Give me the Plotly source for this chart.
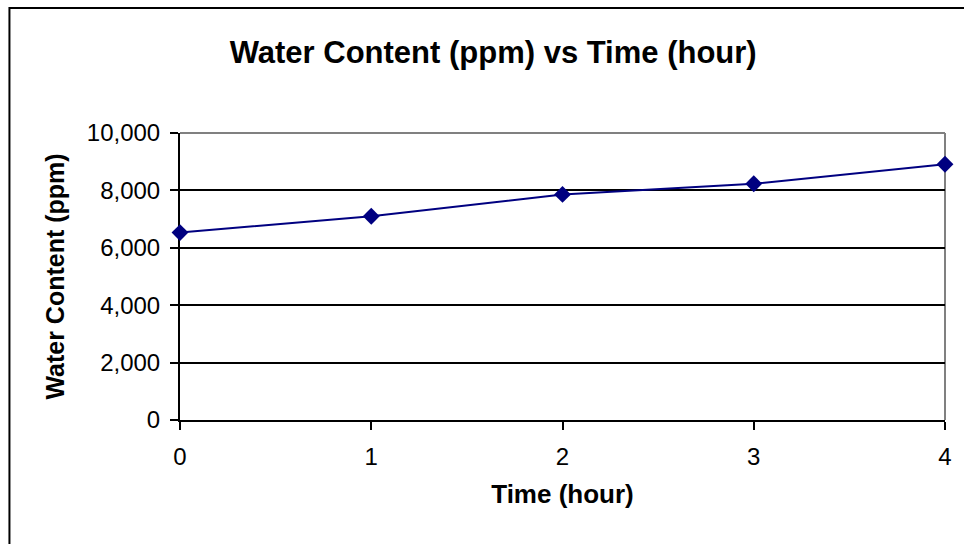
import plotly.graph_objects as go

time_hours = [0, 1, 2, 3, 4]
water_ppm = [6530, 7100, 7860, 8230, 8910]
y_tick_vals = [0, 2000, 4000, 6000, 8000, 10000]
y_tick_text = ["0", "2,000", "4,000", "6,000", "8,000", "10,000"]
x_tick_vals = [0, 1, 2, 3, 4]

FONT = "Arial, Liberation Sans, sans-serif"
NAVY = "#000080"

fig = go.Figure()
fig.add_trace(go.Scatter(
    x=time_hours, y=water_ppm, mode="lines+markers",
    line=dict(color=NAVY, width=2),
    marker=dict(symbol="diamond", size=13, color=NAVY),
    showlegend=False, cliponaxis=False,
))

fig.update_layout(
    width=964, height=544,
    margin=dict(l=180, r=17, t=133, b=124),
    paper_bgcolor="white", plot_bgcolor="white",
    font=dict(family=FONT, color="black"),
    title=dict(text="<b>Water Content (ppm) vs Time (hour)</b>",
               font=dict(size=31, family=FONT, color="black"),
               xref="paper", x=(494 - 180) / 767, xanchor="center",
               yref="container", y=1 - 52 / 544, yanchor="middle"),
    xaxis=dict(range=[0, 4], tickvals=x_tick_vals, showgrid=False,
               showline=True, linecolor="black", linewidth=2,
               ticks="outside", ticklen=8, tickwidth=2, tickcolor="black",
               tickfont=dict(size=24, family=FONT, color="black"),
               ticklabelstandoff=6, zeroline=False, layer="below traces",
               title=dict(text="<b>Time (hour)</b>", standoff=16,
                          font=dict(size=26, family=FONT, color="black"))),
    yaxis=dict(range=[0, 10000], tickvals=y_tick_vals, ticktext=y_tick_text,
               showgrid=True, gridcolor="black", gridwidth=2,
               showline=True, linecolor="black", linewidth=2,
               ticks="outside", ticklen=8, tickwidth=2, tickcolor="black",
               tickfont=dict(size=24, family=FONT, color="black"),
               ticklabelstandoff=5, zeroline=False, layer="below traces",
               title=dict(text="<b>Water Content (ppm)</b>", standoff=15,
                          font=dict(size=25, family=FONT, color="black"))),
    shapes=[
        dict(type="line", xref="paper", yref="paper", x0=0, x1=1, y0=1, y1=1,
             line=dict(color="#808080", width=2), layer="between"),
        dict(type="line", xref="paper", yref="paper", x0=1, x1=1, y0=0, y1=1,
             line=dict(color="#808080", width=2), layer="between"),
        dict(type="rect", xref="paper", yref="paper",
             x0=(9 - 180) / 767, x1=(985 - 180) / 767,
             y0=(420 - 570) / 287, y1=(420 - 8) / 287,
             line=dict(color="black", width=2), layer="above"),
    ],
)

fig.write_html("out.html")
